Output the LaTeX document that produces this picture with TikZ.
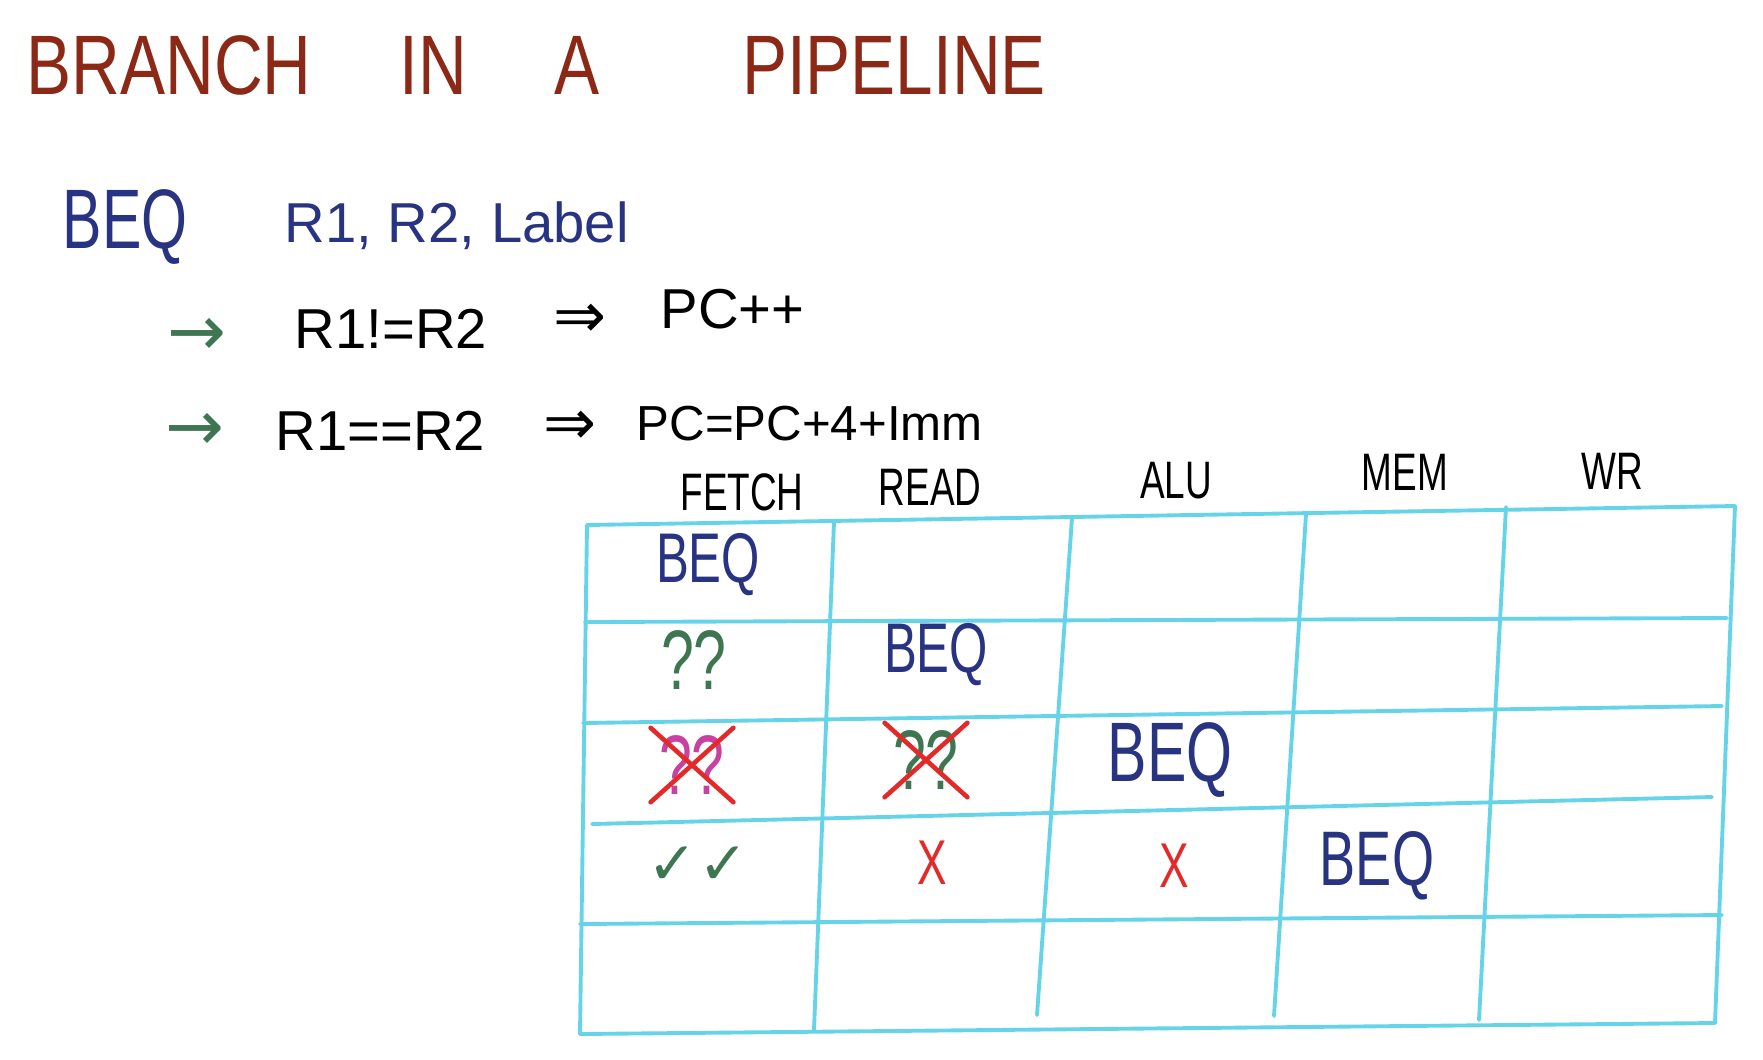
\documentclass[tikz,border=0pt]{standalone}
\usepackage{fontspec}
\setmainfont{Liberation Sans}
\newfontfamily\titlefont[FakeStretch=0.8]{Liberation Sans}
\newfontfamily\narrowfont[FakeStretch=0.7]{Liberation Sans}
\newfontfamily\symfont{DejaVu Sans}

\definecolor{titlered}{RGB}{140,40,22}
\definecolor{inkblue}{RGB}{40,52,130}
\definecolor{inkgreen}{RGB}{62,118,82}
\definecolor{inkred}{RGB}{228,42,40}
\definecolor{inkpink}{RGB}{200,64,160}
\definecolor{gridcyan}{RGB}{102,212,232}

\begin{document}
\begin{tikzpicture}
  [x=0.01cm,y=-0.01cm,inner sep=0pt,
   title/.style={text=titlered,font=\titlefont\fontsize{24}{28}\selectfont},
   instr/.style={text=black,font=\fontsize{16}{19}\selectfont,anchor=base west},
   arr/.style={text=inkgreen,font=\symfont\fontsize{20}{24}\selectfont},
   impl/.style={text=black,font=\symfont\fontsize{18}{21}\selectfont},
   head/.style={text=black,font=\narrowfont\fontsize{15}{18}\selectfont},
   beq/.style={text=inkblue,font=\narrowfont\fontsize{#1}{24}\selectfont},
   quest/.style={text=#1,font=\narrowfont\fontsize{24}{28}\selectfont},
   wrong/.style={text=inkred,font=\narrowfont\fontsize{18}{21}\selectfont},
   cross/.style={draw=inkred,line width=1.3pt,line cap=round,shorten <=-3pt,shorten >=-3pt},
   grid/.style={draw=gridcyan,line width=1.1pt,line cap=round}]

  \useasboundingbox (0,0) rectangle (1763,1059);

  % title
  \node[title] (t1) at (169,65)  {BRANCH};
  \node[title] (t2) at (433,65)  {IN};
  \node[title] (t3) at (577,65)  {A};
  \node[title] (t4) at (894,65)  {PIPELINE};

  % instruction
  \node[beq=24] (beq) at (125,227) {BEQ};
  \node[instr,text=inkblue,font=\fontsize{16}{19}\selectfont] (ops) at (284,242) {R1, R2, Label};

  \node[arr]   (a1) at (197,337) {→};
  \node[instr] (c1) at (294,348) {R1!=R2};
  \node[impl]  (i1) at (580,321) {⇒};
  \node[instr] (p1) at (660,328) {PC++};

  \node[arr]   (a2) at (195,432) {→};
  \node[instr] (c2) at (275,450) {R1==R2};
  \node[impl]  (i2) at (570,428) {⇒};
  \node[instr,font=\fontsize{14}{17}\selectfont] (p2) at (636,440) {PC=PC+4+Imm};

  % stage names
  \node[head] (h1) at (742,492)  {FETCH};
  \node[head] (h2) at (930,487)  {READ};
  \node[head] (h3) at (1176,481) {ALU};
  \node[head] (h4) at (1405,472) {MEM};
  \node[head] (h5) at (1612,471) {WR};

  % grid
  \coordinate (l0) at (587,525);  \coordinate (r0) at (1735,506);
  \coordinate (l1) at (585,622);  \coordinate (r1) at (1727,618);
  \coordinate (l2) at (583,723);  \coordinate (r2) at (1722,706);
  \coordinate (l3) at (592,824);  \coordinate (r3) at (1712,797);
  \coordinate (l4) at (580,924);  \coordinate (r4) at (1722,915);
  \coordinate (l5) at (580,1034); \coordinate (r5) at (1715,1023);
  \coordinate (u1) at (834,522);  \coordinate (d1) at (814,1030);
  \coordinate (u2) at (1072,518); \coordinate (d2) at (1037,1015);
  \coordinate (u3) at (1306,514); \coordinate (d3) at (1274,1016);
  \coordinate (u4) at (1506,507); \coordinate (d4) at (1479,1020);

  \foreach \from/\to in {l0/r0,l1/r1,l2/r2,l3/r3,l4/r4,l5/r5,
                         l0/l5,u1/d1,u2/d2,u3/d3,u4/d4,r0/r5}
    \draw[grid] (\from) -- (\to);

  % cycle 1
  \node[beq=20] (f1) at (708,565) {BEQ};
  % cycle 2
  \node[quest=inkgreen] (f2) at (694,660) {??};
  \node[beq=20] (r2b) at (936,655) {BEQ};
  % cycle 3
  \node[quest=inkpink] (f3) at (692,765) {??};
  \node[quest=inkgreen] (rd3) at (926,760) {??};
  \node[beq=24] (x3) at (1170,760) {BEQ};
  \draw[cross] (f3.north west) -- (f3.south east);
  \draw[cross] (f3.south west) -- (f3.north east);
  \draw[cross] (rd3.north west) -- (rd3.south east);
  \draw[cross] (rd3.south west) -- (rd3.north east);
  % cycle 4
  \node[text=inkgreen,font=\symfont\fontsize{17}{20}\selectfont] (f4) at (698,866) {✓✓};
  \node[wrong] (rd4) at (932,863)  {X};
  \node[wrong] (x4)  at (1174,866) {X};
  \node[beq=22] (m4) at (1377,866) {BEQ};

\end{tikzpicture}
\end{document}
